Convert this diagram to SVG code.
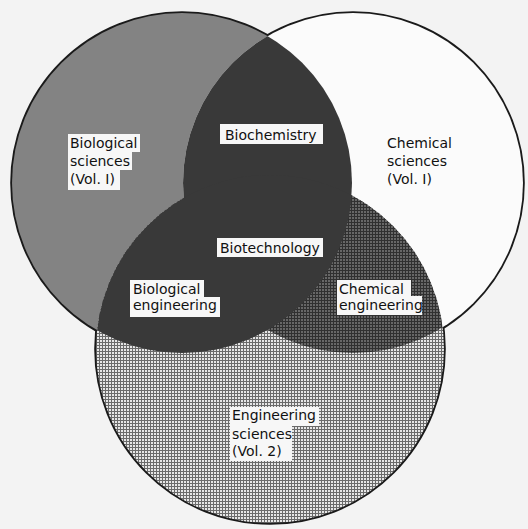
<svg xmlns="http://www.w3.org/2000/svg" width="528" height="529" viewBox="0 0 528 529">
  <style>
    .lbl { font-family: "DejaVu Sans", "Liberation Sans", sans-serif; font-size: 14px; fill: #111111; }
    .box { fill: #f7f7f7; }
    .outline { fill: none; stroke: #1a1a1a; stroke-width: 3.6; }
  </style>
  <defs>
    <pattern id="gridLight" width="3" height="3" patternUnits="userSpaceOnUse">
      <rect width="3" height="3" fill="#6a6a6a"/>
      <rect x="1" y="1" width="2" height="2" fill="#e6e6e6"/>
    </pattern>
    <pattern id="gridDark" width="3" height="3" patternUnits="userSpaceOnUse">
      <rect width="3" height="3" fill="#303030"/>
      <rect x="1" y="1" width="2" height="2" fill="#676767"/>
    </pattern>
    <clipPath id="clipBio"><circle cx="182" cy="183" r="170"/></clipPath>
    <clipPath id="clipChem"><circle cx="353" cy="183" r="170"/></clipPath>
  </defs>

  <rect width="528" height="529" fill="#f3f3f3"/>

  <!-- outer outlines drawn first; fills hide the inner arcs and inner half of each stroke -->
  <g id="outlines">
    <circle class="outline" cx="182" cy="183" r="170"/>
    <circle class="outline" cx="353" cy="183" r="170"/>
    <circle class="outline" cx="270" cy="349" r="174"/>
  </g>

  <g id="biological-sciences">
    <circle cx="182" cy="183" r="170" fill="#838383"/>
    <path class="box" d="M68,134 H140 V152 H132 V170 H120 V190 H68 Z"/>
    <text class="lbl" x="70" y="147.5">Biological</text>
    <text class="lbl" x="70" y="165.5">sciences</text>
    <text class="lbl" x="70" y="184">(Vol. I)</text>
  </g>

  <g id="chemical-sciences">
    <circle cx="353" cy="183" r="170" fill="#fbfbfb"/>
    <text class="lbl" x="387" y="147.5">Chemical</text>
    <text class="lbl" x="387" y="165.5">sciences</text>
    <text class="lbl" x="387" y="184">(Vol. I)</text>
  </g>

  <g id="engineering-sciences">
    <circle cx="270" cy="349" r="174" fill="url(#gridLight)"/>
    <path class="box" d="M230,407 H319 V426 H292 V461 H230 Z"/>
    <text class="lbl" x="232" y="419.5">Engineering</text>
    <text class="lbl" x="232" y="438.5">sciences</text>
    <text class="lbl" x="232" y="456">(Vol. 2)</text>
  </g>

  <g id="chemical-engineering">
    <circle cx="270" cy="349" r="174" fill="url(#gridDark)" clip-path="url(#clipChem)"/>
    <path class="box" d="M337,280 H411 V296 H422 V315 H337 Z"/>
    <text class="lbl" x="339" y="294">Chemical</text>
    <text class="lbl" x="339" y="310">engineering</text>
  </g>

  <g id="biochemistry">
    <circle cx="353" cy="183" r="170" fill="#393939" clip-path="url(#clipBio)"/>
    <rect class="box" x="220" y="124" width="103" height="20"/>
    <text class="lbl" x="225" y="140">Biochemistry</text>
  </g>

  <g id="biological-engineering">
    <circle cx="270" cy="349" r="174" fill="#393939" clip-path="url(#clipBio)"/>
    <path class="box" d="M130,280 H204 V297 H220 V317 H130 Z"/>
    <text class="lbl" x="133" y="294">Biological</text>
    <text class="lbl" x="133" y="310">engineering</text>
  </g>

  <g id="biotechnology">
    <rect class="box" x="217" y="238" width="106" height="19"/>
    <text class="lbl" x="220" y="253">Biotechnology</text>
  </g>

  <g id="connectors"/>
</svg>
